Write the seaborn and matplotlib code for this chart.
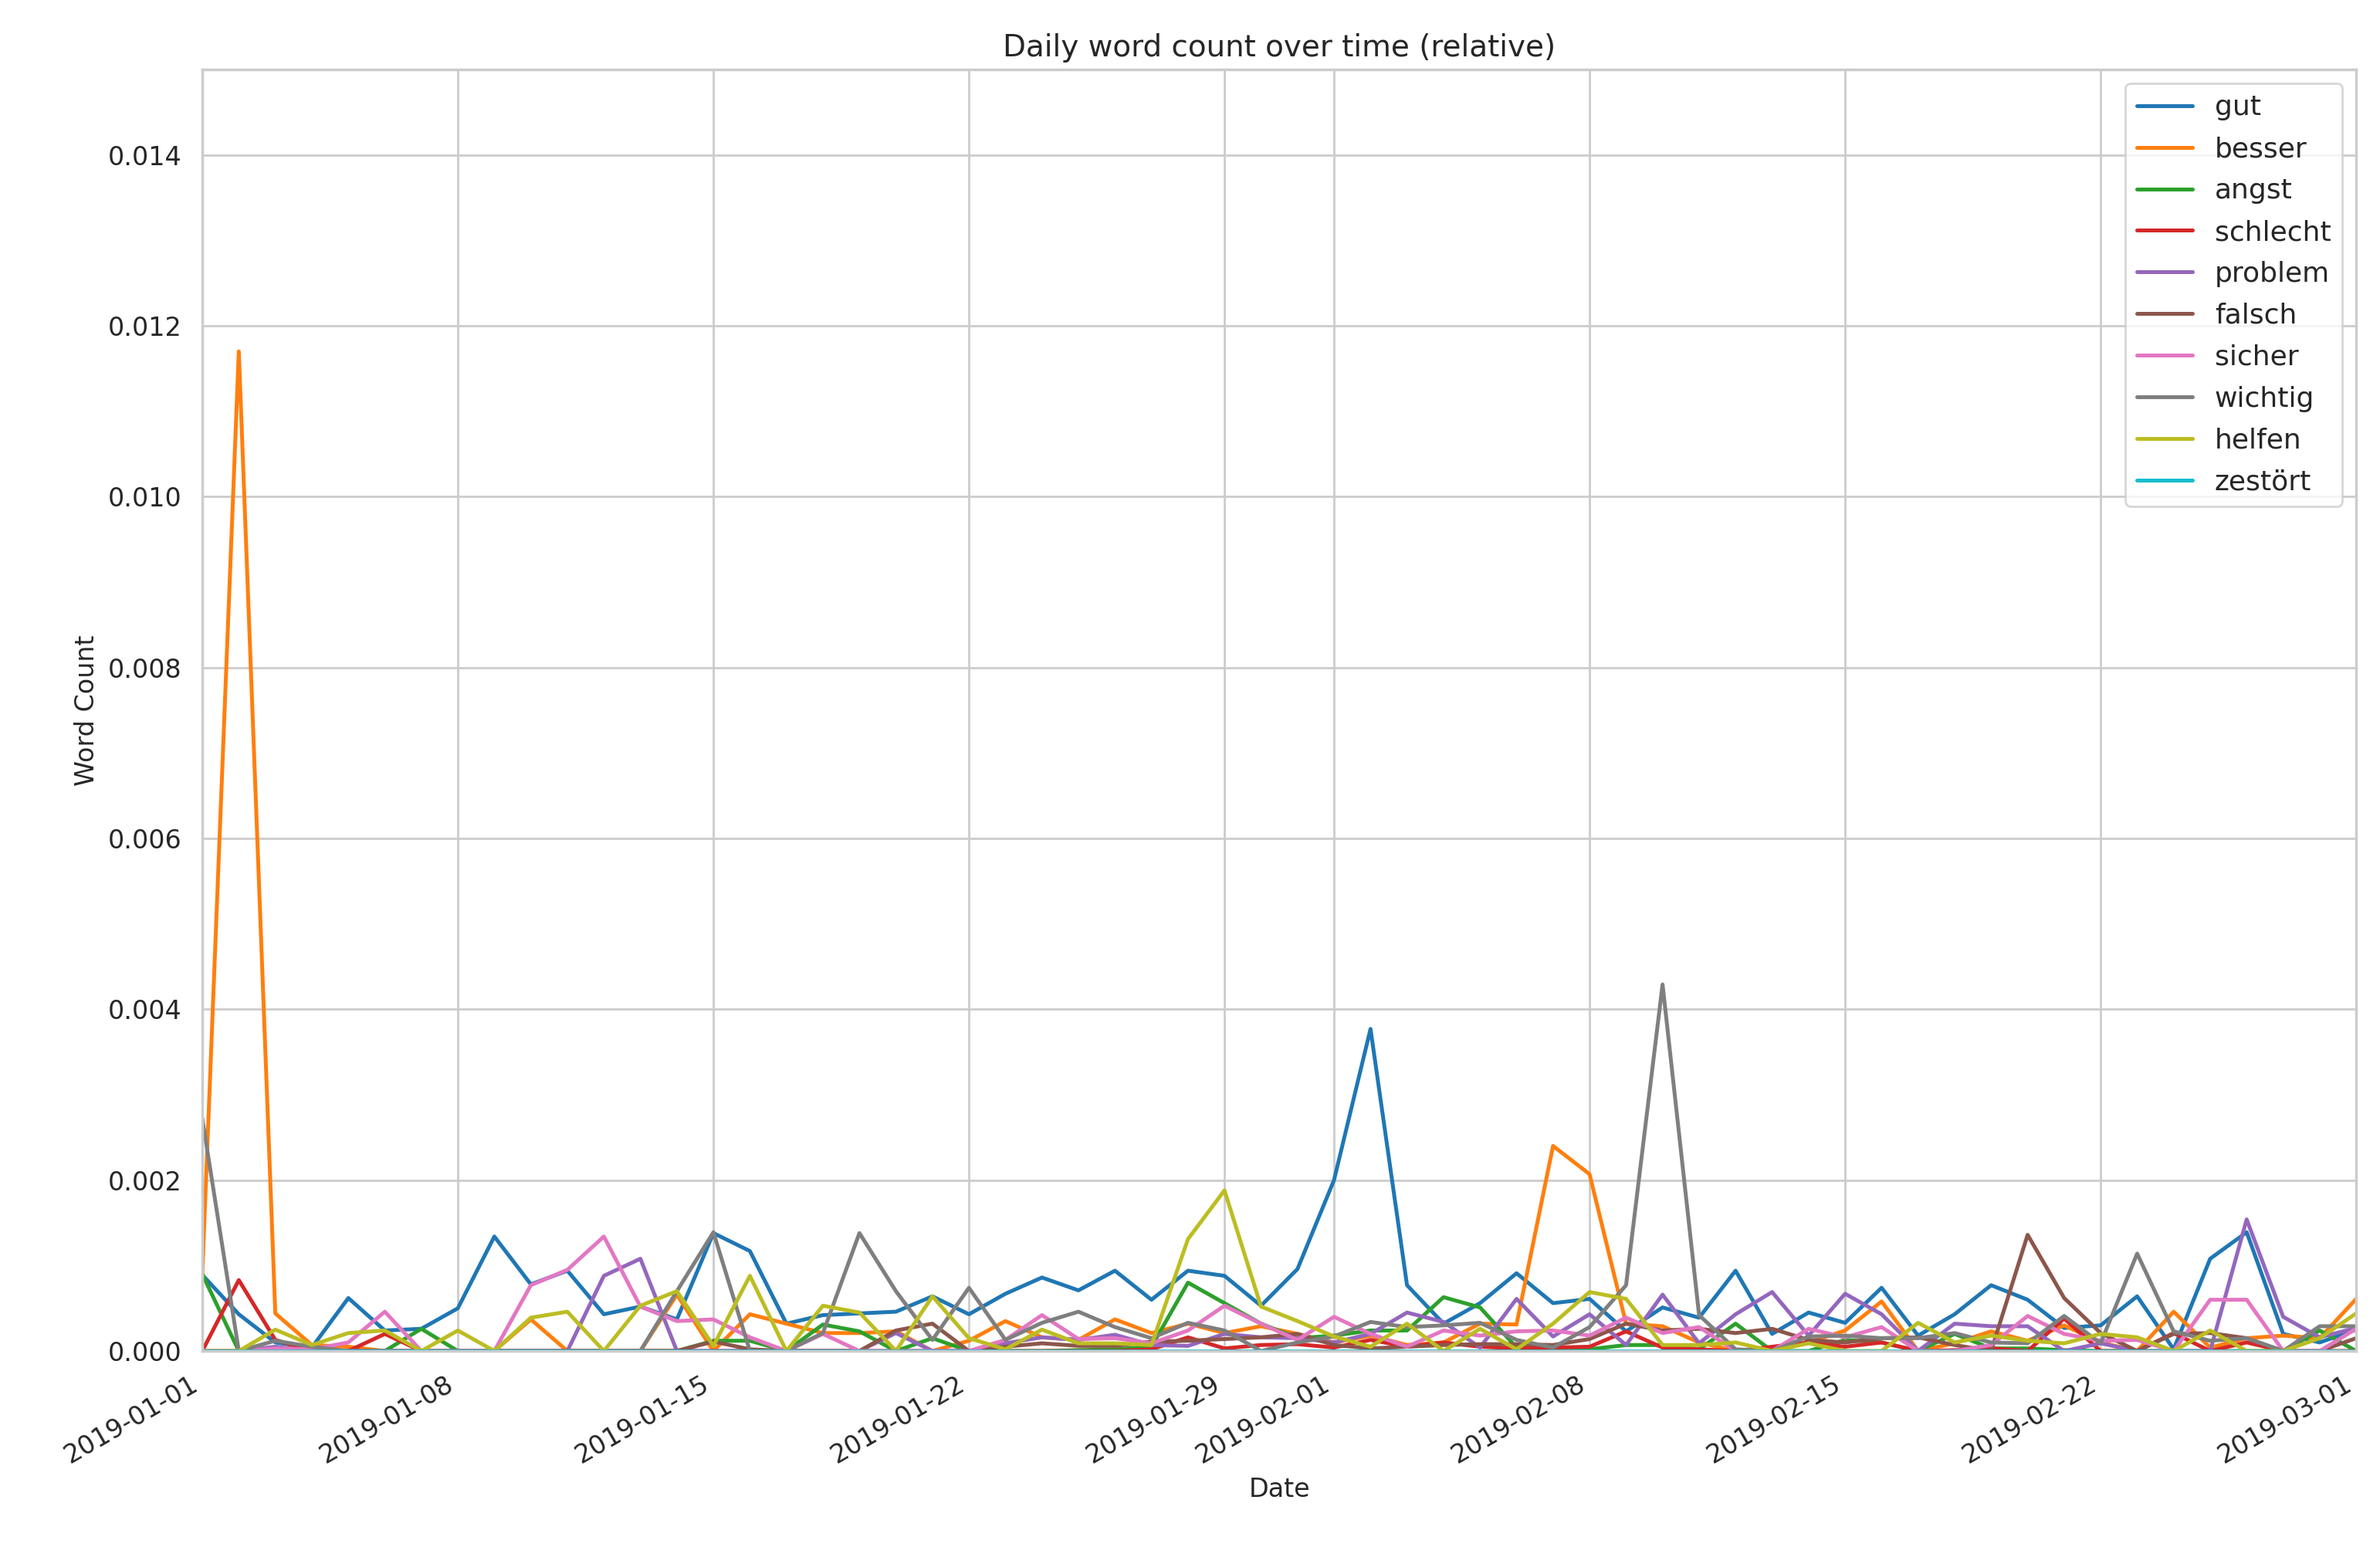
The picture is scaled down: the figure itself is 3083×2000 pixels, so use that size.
import numpy as np
import pandas as pd
import matplotlib
matplotlib.use("Agg")
import matplotlib.pyplot as plt
import matplotlib.dates as mdates
import seaborn as sns

dates = pd.date_range("2019-01-01", "2019-03-01", freq="D")
tick_dates = pd.to_datetime(["2019-01-01", "2019-01-08", "2019-01-15", "2019-01-22", "2019-01-29",
                             "2019-02-01", "2019-02-08", "2019-02-15", "2019-02-22", "2019-03-01"])

gut = [.00089,.00043,.0001,.00004,.00062,.00024,.00026,.0005,.00134,.00078,.00094,.00043,.00052,.00037,.00138,.00117,
       .00032,.00042,.00044,.00046,.00064,.00043,.00067,.00086,.00071,.00094,.0006,.00094,.00088,.00053,.00096,
       .002,.00377,.00077,.00032,.00056,.00091,.00056,.00061,.00023,.00051,.00039,.00094,.0002,.00045,.00033,
       .00074,.00018,.00043,.00077,.0006,.00027,.0003,.00064,.00002,.00108,.00139,.0002,.0001,.00025]
besser = [.0009,.0117,.00044,.00007,.00005,0,0,0,0,.00037,0,0,0,.00066,0,.00043,
          .00032,.00021,.00021,.00023,0,.00012,.00035,.00016,.00013,.00037,.00021,.00032,.00021,.00029,.0002,
          .0001,.00018,.00007,.0001,.00032,.00031,.0024,.00207,.00032,.00029,.0001,0,0,.0001,.00024,
          .00058,0,.00009,.00023,.00012,.0003,.0001,0,.00046,.00004,.00015,.00018,.00015,.00061]
angst = [.0009,0,0,0,0,0,.00026,0,0,0,0,0,0,0,.00012,.00012,
         0,.00031,.00023,0,.00015,0,0,0,.00001,.00002,.00005,.0008,.00056,.00032,.00015,
         .00018,.00024,.00024,.00063,.00051,.00004,.00002,.00002,.00007,.00007,.00002,.00032,0,0,.00013,
         .0001,0,.0002,.00003,.00003,.00001,0,0,0,0,0,0,.00024,0]
schlecht = [0,.00083,.00013,0,0,.0002,0,0,0,0,0,0,0,0,0,0,
            0,0,0,0,0,0,0,0,0,0,.00002,.00016,.00003,.00007,.00008,
            .00004,.00013,.00005,.0001,.00005,.00003,.00004,.00005,.00023,.00004,.00002,0,.00005,.0001,.00005,
            .0001,0,.00001,.00003,0,.00038,0,0,.00021,0,.0001,0,0,0]
problem = [0,0,.00005,0,0,0,0,0,0,0,0,.00088,.00108,0,0,0,
           0,0,0,.00021,0,0,.00009,.00016,.00013,.00019,.00007,.00006,.0002,.00016,.00015,
           .0001,.0002,.00045,.00034,.00004,.00061,.00017,.00043,.00007,.00066,.00009,.00043,.00069,.00018,.00067,
           .00043,0,.00032,.00029,.00029,0,.00009,0,0,0,.00154,.0004,.00016,.00027]
falsch = [0,0,0,0,0,0,0,0,0,0,0,0,0,0,.00011,.00002,
          0,0,0,.00024,.00032,0,.00005,.00009,.00006,.00006,.00011,.00012,.00014,.00016,.0002,
          .00007,.00003,.00005,.00007,.00008,.00008,.00007,.00014,.00032,.00024,.00026,.00021,.00026,.00013,.0001,
          .00015,.00016,.00007,0,.00136,.00062,.00021,0,.0002,.00021,.00015,0,0,.00015]
sicher = [0,0,.00003,.00002,.0001,.00046,0,0,0,.00077,.00095,.00134,.00052,.00035,.00037,.00016,
          0,.0002,0,0,0,0,.00013,.00042,.00014,.00015,.00009,.00024,.00053,.00032,.00013,
          .0004,.0002,.00005,.00024,.00018,.00023,.00024,.00018,.00039,.00021,.00028,0,0,.00026,.00016,
          .00028,0,0,.00007,.00041,.0002,.00012,.00013,0,.0006,.0006,0,0,.00026]
wichtig = [.00272,0,.00012,.00005,0,0,0,0,0,0,0,0,0,.0007,.00139,0,
           0,.00021,.00138,.0007,.00013,.00074,.00013,.00033,.00046,.00028,.00015,.00033,.00024,0,.0001,
           .00017,.00034,.00028,.0003,.00033,.00013,.00004,.00028,.00077,.00429,.00042,.00002,0,.00017,.00018,
           .00015,.00015,.00021,.0001,.00009,.00041,.00009,.00114,.00023,.00012,.00015,0,.00029,.00029]
helfen = [0,0,.00025,.00007,.00021,.00024,0,.00024,0,.00039,.00046,0,.00053,.0007,.00006,.00088,
          0,.00053,.00045,0,.00064,.00015,.00002,.00025,.00009,.00009,.00007,.00131,.00188,.00052,.00035,
          .00017,.00005,.00032,0,.00026,.00002,.00032,.00069,.00061,.00007,.00007,.0001,0,.00009,0,
          0,.00033,.0001,.00018,.00012,.00009,.0002,.00016,0,.00024,0,0,.00015,.00044]
zestoert = [0] * 60

words = ["gut", "besser", "angst", "schlecht", "problem", "falsch", "sicher", "wichtig", "helfen", "zestört"]
series = [gut, besser, angst, schlecht, problem, falsch, sicher, wichtig, helfen, zestoert]

df = pd.DataFrame({w: s for w, s in zip(words, series)}, index=dates)
long = df.reset_index(names="Date").melt(id_vars="Date", var_name="word", value_name="Word Count")

sns.set_theme(style="whitegrid")
plt.rcParams['font.family'] = ['DejaVu Sans']
fig, ax = plt.subplots(figsize=(15.415, 10), dpi=200)
sns.lineplot(data=long, x="Date", y="Word Count", hue="word", palette="tab10",
             linewidth=1.8, ax=ax)
ax.set_xlim(dates[0], dates[-1])
ax.set_ylim(0, 0.015)
ax.set_xticks(tick_dates)
ax.xaxis.set_major_formatter(mdates.DateFormatter("%Y-%m-%d"))
ax.set_title("Daily word count over time (relative)", fontsize=14)
ax.set_xlabel("Date", fontsize=12)
ax.set_ylabel("Word Count", fontsize=12)
ax.tick_params(labelsize=12)
ax.legend(loc="upper right", fontsize=13, title=None, labelspacing=0.55)
fig.autofmt_xdate()
fig.subplots_adjust(left=0.085, right=0.99, top=0.955, bottom=0.125)
fig.savefig("out.png", dpi=200)
